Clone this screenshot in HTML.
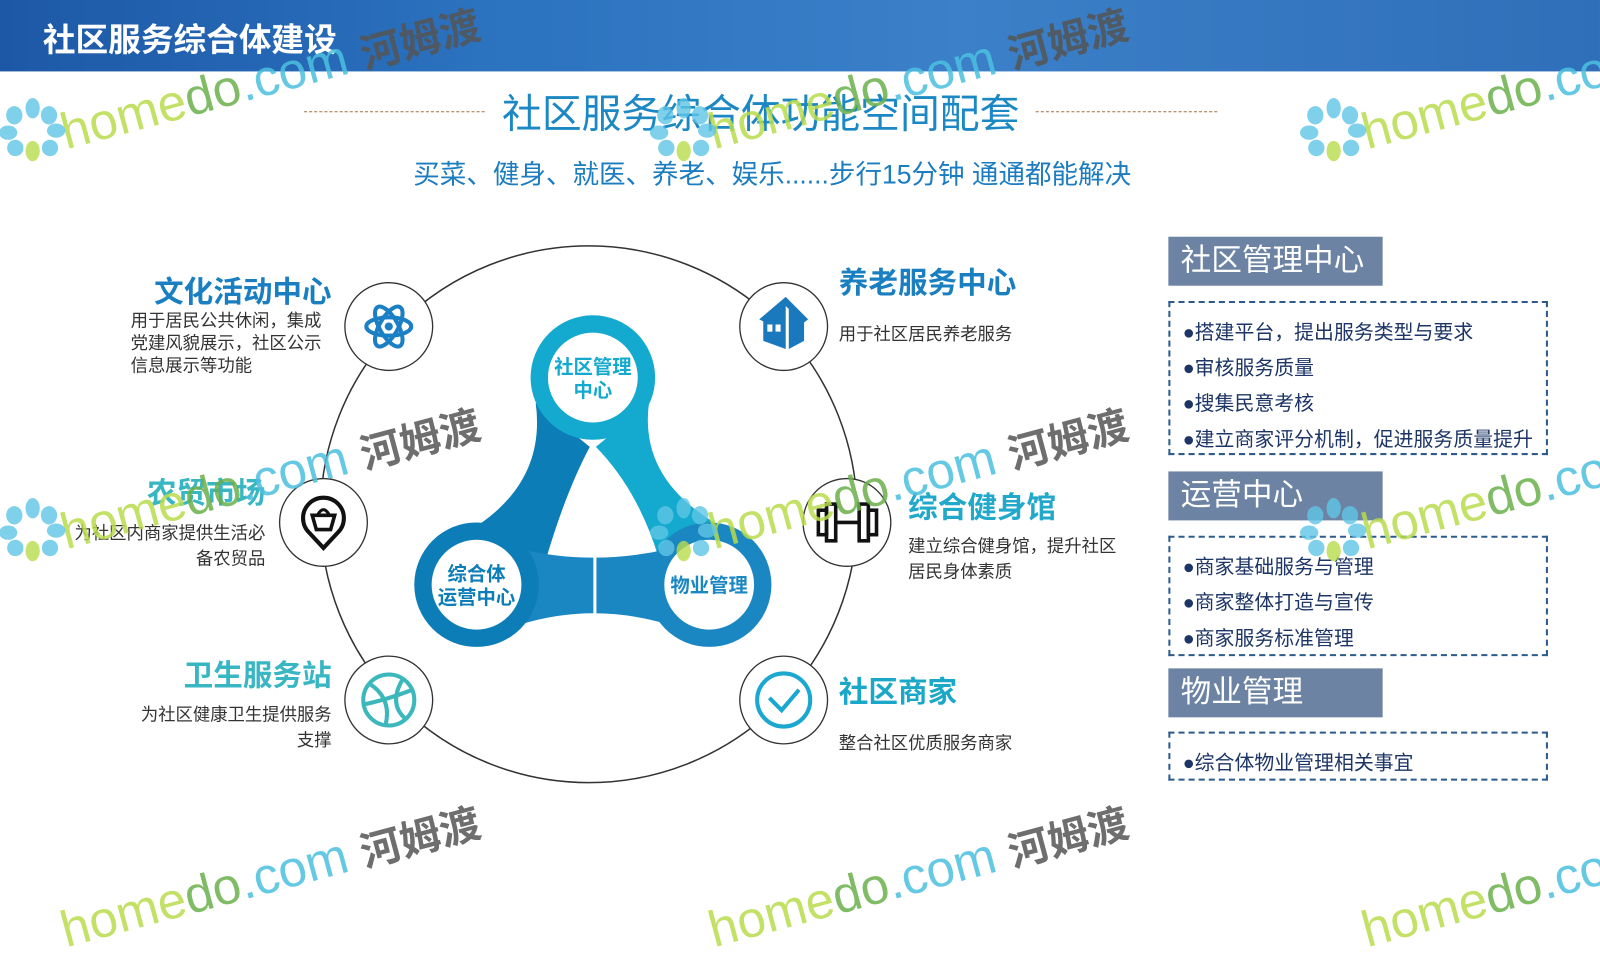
<!DOCTYPE html>
<html><head><meta charset="utf-8">
<style>
html,body{margin:0;padding:0;width:1600px;height:900px;overflow:hidden;background:#fff;}
#w{position:absolute;left:0;top:0;width:1568px;height:882px;transform:scale(1.0204);transform-origin:0 0;font-family:"Liberation Sans","Noto Sans CJK SC",sans-serif;}
.a{position:absolute;white-space:nowrap;}
.hd{position:absolute;left:1145px;width:210px;background:#6d83a3;color:#fff;font-size:30px;line-height:48px;padding-left:12px;box-sizing:border-box;}
.bx{position:absolute;left:1145px;width:372px;border:2px dashed #2d5b8e;box-sizing:border-box;}
.it{position:absolute;left:12px;font-size:19.5px;color:#1d3566;white-space:nowrap;}
.t{font-weight:bold;font-size:29px;}
.d{font-size:17px;color:#333;line-height:22px;}
.wm{position:absolute;transform:rotate(-15deg);transform-origin:0 100%;white-space:nowrap;font-size:50px;opacity:.85;}
</style></head><body><div id="w">
<div style="position:absolute;left:0;top:0;width:1568px;height:70px;background:linear-gradient(90deg,#1d58a6 0%,#2b72bf 30%,#3b80c8 60%,#2f6fb9 100%);"></div>
<div class="a" style="left:42px;top:14px;font-size:32px;font-weight:bold;color:#fff;">社区服务综合体建设</div>

<div style="position:absolute;left:298px;top:109px;width:177px;border-top:1px dashed #a0704a;"></div>
<div style="position:absolute;left:1015px;top:109px;width:178px;border-top:1px dashed #a0704a;"></div>
<div class="a" style="left:492px;top:81px;font-size:39px;color:#1b88c4;">社区服务综合体功能空间配套</div>
<div class="a" style="left:405px;top:151px;font-size:26px;color:#1b7cc0;">买菜、健身、就医、养老、娱乐......步行15分钟 通通都能解决</div>

<svg style="position:absolute;left:0;top:0" width="1568" height="882">
<circle cx="577" cy="504" r="263" fill="none" stroke="#333" stroke-width="1.5"/>
<g fill="#fff" stroke="#333" stroke-width="1.3">
<circle cx="381" cy="320" r="43"/><circle cx="768" cy="320" r="43"/>
<circle cx="317" cy="512" r="43"/><circle cx="830" cy="512" r="43"/>
<circle cx="381" cy="686" r="43"/><circle cx="768" cy="686" r="43"/>
</g>
<g fill="none" stroke="#1a7fc4" stroke-width="4">
<ellipse cx="381" cy="320" rx="22" ry="9"/>
<ellipse cx="381" cy="320" rx="22" ry="9" transform="rotate(60 381 320)"/>
<ellipse cx="381" cy="320" rx="22" ry="9" transform="rotate(-60 381 320)"/>
</g><circle cx="381" cy="320" r="4" fill="#1a7fc4"/>
<g fill="#1a78bd">
<path d="M744 313 L770 291 L792 313 L788 316 L770 300 L750 316Z"/>
<path d="M748 314 L770 298 L770 342 L748 334Z"/>
<path d="M773 300 L788 314 L788 334 L773 342Z"/>
</g>
<rect x="752" y="318" width="5" height="7" fill="#fff"/><rect x="760" y="318" width="5" height="7" fill="#fff"/>
<path d="M317 537 L303 522 A20 20 0 1 1 331 522 Z" fill="none" stroke="#111" stroke-width="4"/>
<path d="M306 505 L328 505 L324 519 L310 519Z" fill="none" stroke="#111" stroke-width="3.5"/>
<path d="M311 505 Q317 494 323 505" fill="none" stroke="#111" stroke-width="3"/>
<g fill="none" stroke="#111" stroke-width="3.5">
<rect x="802" y="500" width="8" height="24"/><rect x="810" y="494" width="9" height="36"/>
<rect x="842" y="494" width="9" height="36"/><rect x="851" y="500" width="8" height="24"/>
<line x1="819" y1="512" x2="842" y2="512"/>
</g>
<g fill="none" stroke="#3cb8bd" stroke-width="4">
<circle cx="381" cy="686" r="25"/>
<path d="M362 670 Q384 684 378 710"/><path d="M395 665 Q380 690 398 705"/><path d="M358 690 Q378 686 404 676"/>
</g>
<circle cx="768" cy="686" r="26" fill="none" stroke="#1aa7d0" stroke-width="4"/>
<path d="M754 684 L766 696 L783 676" fill="none" stroke="#1aa7d0" stroke-width="4"/>

<path d="M525 395 Q535 470 468 515 L520 605 Q545 500 578 438 Z" fill="#0c7db6"/>
<path d="M636 395 Q626 470 705 515 L645 545 Q625 480 584 438 Z" fill="#14a9cf"/>
<path d="M510 538 Q581 555 655 538 L655 612 Q581 590 510 612 Z" fill="#1a87c2"/>
<line x1="583" y1="545" x2="583" y2="605" stroke="#fff" stroke-width="3"/>
<circle cx="581" cy="370" r="61" fill="#14a9cf"/><circle cx="581" cy="370" r="44" fill="#fff"/>
<circle cx="467" cy="573" r="61" fill="#0c7db6"/><circle cx="467" cy="573" r="44" fill="#fff"/>
<circle cx="695" cy="573" r="61" fill="#1a87c2"/><circle cx="695" cy="573" r="44" fill="#fff"/>
<g font-family="Liberation Sans,Noto Sans CJK SC,sans-serif" font-weight="bold" font-size="19" text-anchor="middle">
<text x="581" y="366" fill="#14a9cf">社区管理</text><text x="581" y="389" fill="#14a9cf">中心</text>
<text x="467" y="569" fill="#0c7db6">综合体</text><text x="467" y="592" fill="#0c7db6">运营中心</text>
<text x="695" y="580" fill="#1a87c2">物业管理</text>
</g>
</svg>

<div class="a t" style="right:1243px;top:263px;color:#1a7fc0;">文化活动中心</div>
<div class="a d" style="right:1253px;top:304px;text-align:left;">用于居民公共休闲，集成<br>党建风貌展示，社区公示<br>信息展示等功能</div>
<div class="a t" style="left:822px;top:254px;color:#1a7fc0;">养老服务中心</div>
<div class="a d" style="left:822px;top:317px;">用于社区居民养老服务</div>
<div class="a t" style="right:1308px;top:460px;color:#38b6c3;">农贸市场</div>
<div class="a d" style="right:1308px;top:510px;text-align:right;line-height:25px;">为社区内商家提供生活必<br>备农贸品</div>
<div class="a t" style="left:890px;top:474px;color:#22a8cb;">综合健身馆</div>
<div class="a d" style="left:890px;top:523px;line-height:25px;">建立综合健身馆，提升社区<br>居民身体素质</div>
<div class="a t" style="right:1243px;top:639px;color:#38b6c3;">卫生服务站</div>
<div class="a d" style="right:1243px;top:688px;text-align:right;line-height:25px;">为社区健康卫生提供服务<br>支撑</div>
<div class="a t" style="left:822px;top:655px;color:#1ba8c8;">社区商家</div>
<div class="a d" style="left:822px;top:718px;">整合社区优质服务商家</div>

<div class="hd" style="top:232px;">社区管理中心</div>
<div class="bx" style="top:295px;height:151px;">
<div class="it" style="top:12px;">●搭建平台，提出服务类型与要求</div>
<div class="it" style="top:47px;">●审核服务质量</div>
<div class="it" style="top:82px;">●搜集民意考核</div>
<div class="it" style="top:117px;">●建立商家评分机制，促进服务质量提升</div>
</div>
<div class="hd" style="top:462px;">运营中心</div>
<div class="bx" style="top:525px;height:118px;">
<div class="it" style="top:12px;">●商家基础服务与管理</div>
<div class="it" style="top:47px;">●商家整体打造与宣传</div>
<div class="it" style="top:82px;">●商家服务标准管理</div>
</div>
<div class="hd" style="top:655px;">物业管理</div>
<div class="bx" style="top:717px;height:48px;">
<div class="it" style="top:12px;">●综合体物业管理相关事宜</div>
</div>

<div class="wm" style="left:68px;top:100px;"><span style="color:#b8dc4c">home</span><span style="color:#6ab04a">do</span><span style="color:#4cc0e0">.com</span> <b style="color:#555;font-size:40px">河姆渡</b></div>
<div class="wm" style="left:703px;top:100px;"><span style="color:#b8dc4c">home</span><span style="color:#6ab04a">do</span><span style="color:#4cc0e0">.com</span> <b style="color:#555;font-size:40px">河姆渡</b></div>
<div class="wm" style="left:1343px;top:100px;"><span style="color:#b8dc4c">home</span><span style="color:#6ab04a">do</span><span style="color:#4cc0e0">.com</span></div>
<div class="wm" style="left:68px;top:492px;"><span style="color:#b8dc4c">home</span><span style="color:#6ab04a">do</span><span style="color:#4cc0e0">.com</span> <b style="color:#555;font-size:40px">河姆渡</b></div>
<div class="wm" style="left:703px;top:492px;"><span style="color:#b8dc4c">home</span><span style="color:#6ab04a">do</span><span style="color:#4cc0e0">.com</span> <b style="color:#555;font-size:40px">河姆渡</b></div>
<div class="wm" style="left:1343px;top:492px;"><span style="color:#b8dc4c">home</span><span style="color:#6ab04a">do</span><span style="color:#4cc0e0">.com</span></div>
<div class="wm" style="left:68px;top:882px;"><span style="color:#b8dc4c">home</span><span style="color:#6ab04a">do</span><span style="color:#4cc0e0">.com</span> <b style="color:#555;font-size:40px">河姆渡</b></div>
<div class="wm" style="left:703px;top:882px;"><span style="color:#b8dc4c">home</span><span style="color:#6ab04a">do</span><span style="color:#4cc0e0">.com</span> <b style="color:#555;font-size:40px">河姆渡</b></div>
<div class="wm" style="left:1343px;top:882px;"><span style="color:#b8dc4c">home</span><span style="color:#6ab04a">do</span><span style="color:#4cc0e0">.com</span></div>
<svg style="position:absolute;left:0;top:0" width="1568" height="882" opacity="0.8">
<g id="fl" fill="#5fc6e6">
<ellipse cx="32" cy="106" rx="7" ry="10"/><ellipse cx="48" cy="113" rx="8" ry="9"/><ellipse cx="55" cy="128" rx="9" ry="7"/><ellipse cx="14" cy="113" rx="8" ry="9"/><ellipse cx="8" cy="130" rx="9" ry="7"/><ellipse cx="15" cy="145" rx="8" ry="8"/><ellipse cx="49" cy="145" rx="8" ry="8"/>
<ellipse cx="32" cy="148" rx="7" ry="10" fill="#b8dc4c"/>
</g>
<use href="#fl" x="638" y="0"/><use href="#fl" x="1275" y="0"/>
<use href="#fl" x="0" y="392"/><use href="#fl" x="638" y="392"/><use href="#fl" x="1275" y="392"/>
</svg>
</div></body></html>
